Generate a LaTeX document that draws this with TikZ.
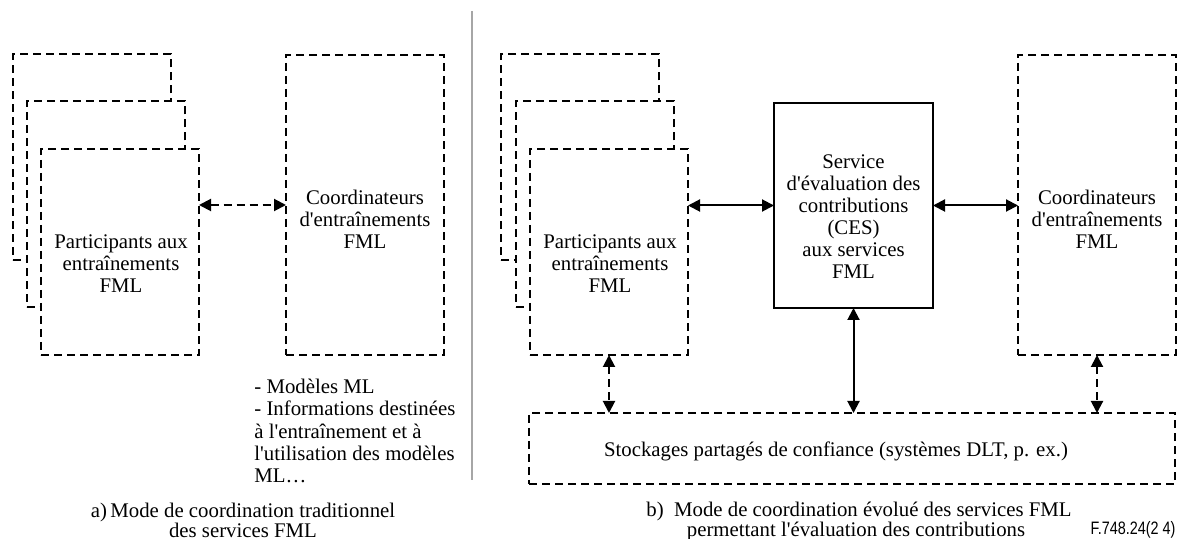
\documentclass[tikz,border=0pt]{standalone}
\usepackage{fontspec}
\setmainfont{Liberation Serif}
\newfontfamily\figfont{Liberation Sans}
\usetikzlibrary{arrows.meta}
\newcommand\ap{\textquotesingle}
\tikzset{
  lbl/.style={inner sep=0pt, align=center, font=\fontsize{10.4}{11}\selectfont},
  dbox/.style={draw, line width=1pt, dash pattern=on 4pt off 2.5pt, fill=white,
               inner sep=0pt, outer sep=0pt},
  sbox/.style={draw, line width=0.6pt, fill=white, inner sep=0pt, outer sep=0pt},
  pbox/.style={dbox, minimum width=79pt, minimum height=103pt},
  cbox/.style={dbox, minimum width=79pt, minimum height=150pt},
  tip/.style={{Triangle[length=6pt,width=6pt]}-{Triangle[length=6pt,width=6pt]}},
  dlink/.style={tip, line width=1pt, dash pattern=on 4pt off 2.5pt},
  slink/.style={tip, line width=1pt},
}
\begin{document}
\begin{tikzpicture}[x=0.5pt, y=-0.5pt]
\useasboundingbox (0,0) rectangle (1178,539);

% separator between the two modes
\draw[black!35, line width=0.8pt] (472,11) -- (472,480);

% ---- a) traditional mode ----
\node[pbox] (pA3) at (91.5,157.5) {};
\node[pbox] (pA2) at (105.5,204.5) {};
\node[pbox] (pA)  at (120,252) {};
\node[lbl] (tA) at (121,264) {Participants aux\\entraînements\\FML};

\node[cbox] (cA) at (365,205) {};
\node[lbl] (tcA) at (365,219.5) {Coordinateurs\\d\ap entraînements\\FML};

\draw[dlink] (pA.east |- cA.west) -- (cA.west);

\node[lbl, align=left, anchor=west, font=\fontsize{10.4}{11.2}\selectfont] (notes) at (254,431)
  {- Modèles ML\\- Informations destinées\\à l\ap entraînement et à\\l\ap utilisation des modèles\\ML…};

\node[lbl, font=\fontsize{10.4}{10}\selectfont] (capA) at (243,520)
  {a)\,Mode de coordination traditionnel\\des services FML};

% ---- b) evolved mode ----
\node[pbox] (pB3) at (580,157.5) {};
\node[pbox] (pB2) at (595,204.5) {};
\node[pbox] (pB)  at (609,252) {};
\node[lbl] (tB) at (610,264) {Participants aux\\entraînements\\FML};

\node[sbox, minimum width=79.5pt, minimum height=102.5pt] (ces) at (853.5,205.5) {};
\node[lbl] (tces) at (853.5,217)
  {Service\\d\ap évaluation des\\contributions\\(CES)\\aux services\\FML};

\node[cbox] (cB) at (1097,205) {};
\node[lbl] (tcB) at (1097,219.5) {Coordinateurs\\d\ap entraînements\\FML};

\node[dbox, minimum width=323pt, minimum height=35.5pt] (store) at (852,448.5) {};
\node[lbl] (tstore) at (836,451) {Stockages partagés de confiance (systèmes DLT, p. ex.)};

\draw[slink] (pB.east |- ces.west) -- (ces.west);
\draw[slink] (ces.east) -- (cB.west |- ces.east);
\draw[dlink] (pB.south) -- (pB.south |- store.north);
\draw[slink] (ces.south) -- (ces.south |- store.north);
\draw[dlink] (cB.south) -- (cB.south |- store.north);

\node[lbl] (capB1) at (859,511) {b)\enspace Mode de coordination évolué des services FML};
\node[lbl] (capB2) at (856,531) {permettant l\ap évaluation des contributions};

\node[inner sep=0pt, font=\figfont\fontsize{9}{10}\selectfont] (figno) at (1133,530)
  {\scalebox{0.8}[1]{F.748.24(2 4)}};
\end{tikzpicture}
\end{document}
